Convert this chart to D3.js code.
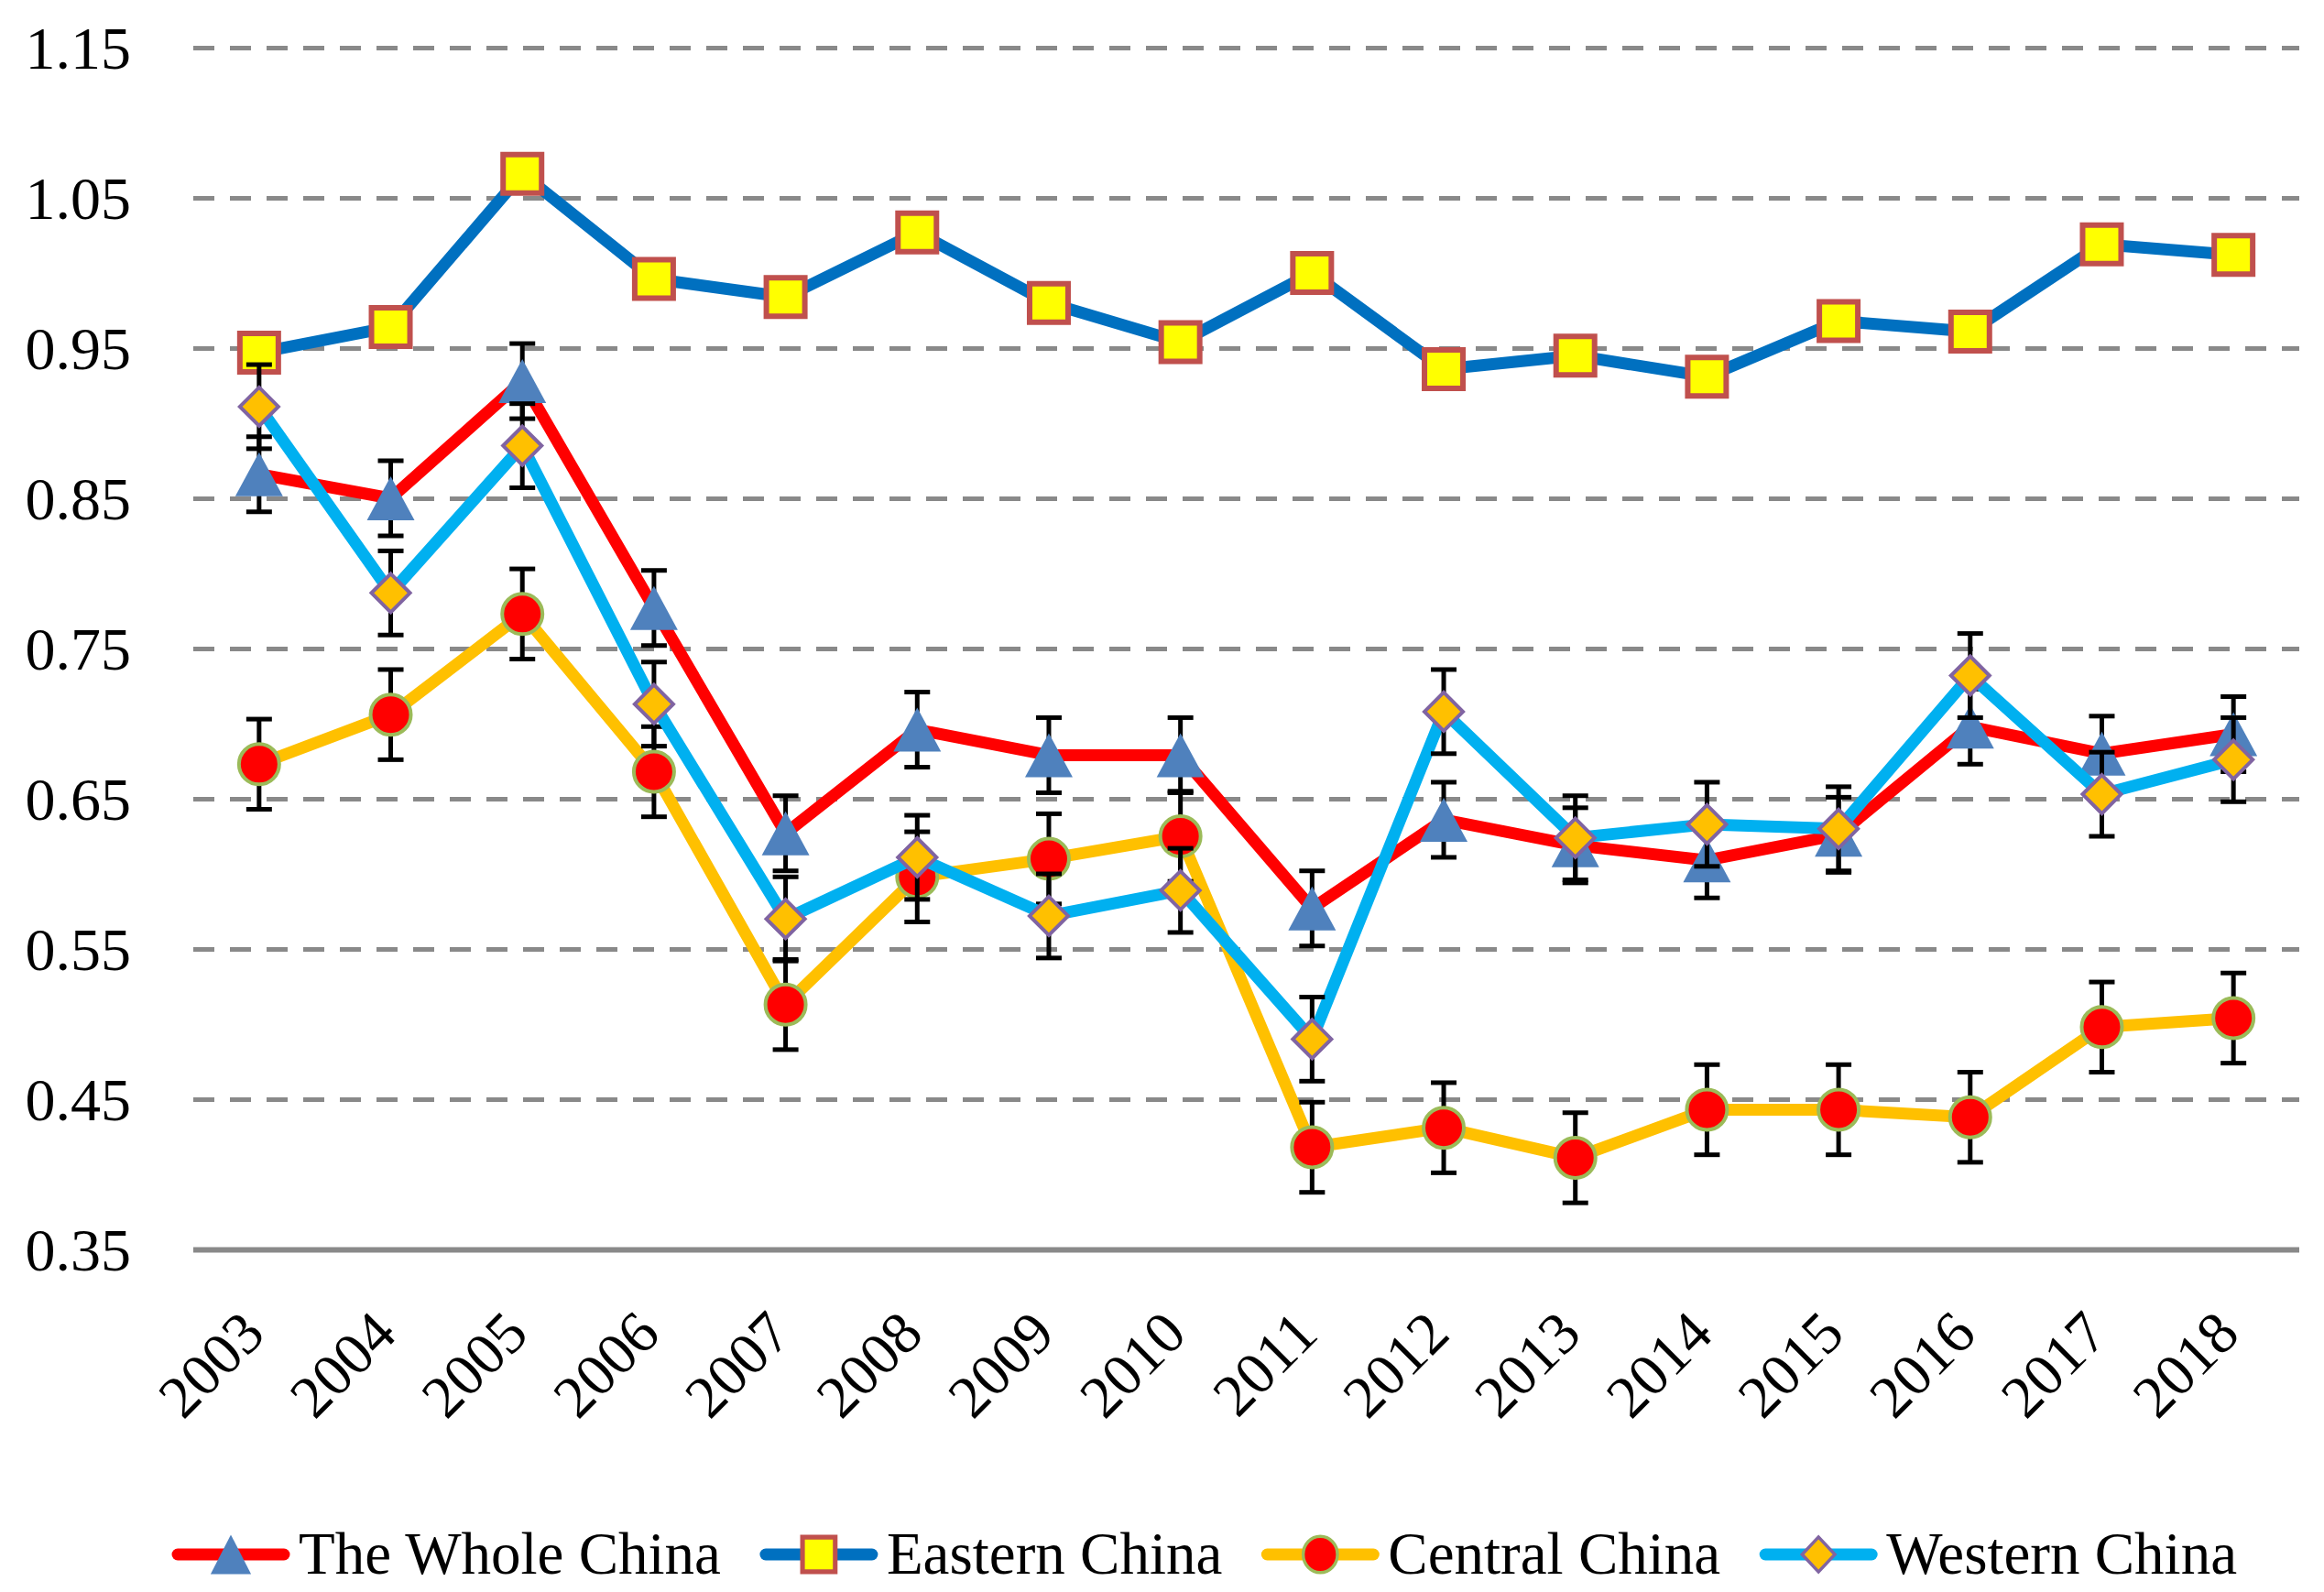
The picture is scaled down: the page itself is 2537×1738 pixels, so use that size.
<!DOCTYPE html>
<html>
<head>
<meta charset="utf-8">
<script src="https://cdn.jsdelivr.net/npm/d3@7"></script>
<style>
  body { margin: 0; background: #fff; }
  text { font-family: "Liberation Serif", serif; fill: #000; }
</style>
</head>
<body>
<svg id="chart"></svg>
<script>
const width = 2537;
const height = 1738;

const years = ["2003","2004","2005","2006","2007","2008","2009","2010",
               "2011","2012","2013","2014","2015","2016","2017","2018"];
const yTicks = [0.35, 0.45, 0.55, 0.65, 0.75, 0.85, 0.95, 1.05, 1.15];

const wholeChina = [0.866,0.850,0.928,0.777,0.627,0.696,0.679,0.679,0.577,0.636,0.619,0.609,0.626,0.698,0.680,0.693];
const easternChina = [0.947,0.964,1.066,0.996,0.984,1.027,0.980,0.954,1.000,0.936,0.945,0.931,0.968,0.961,1.019,1.012];
const centralChina = [0.673,0.706,0.773,0.668,0.513,0.598,0.610,0.625,0.418,0.431,0.411,0.443,0.443,0.438,0.498,0.504];
const westernChina = [0.911,0.787,0.885,0.713,0.570,0.611,0.572,0.589,0.490,0.708,0.624,0.633,0.630,0.732,0.653,0.676];

const seriesNames = ["The Whole China", "Eastern China", "Central China", "Western China"];
const seriesErrors = [0.025, 0, 0.03, 0.028];

// marker shapes, centred on 0,0
const shapes = {
    triangle: s => `M0,${-24*s}L${26*s},${24*s}L${-26*s},${24*s}Z`,
    square: s => `M${-21*s},${-21*s}H${21*s}V${21*s}H${-21*s}Z`,
    circle: s => `M${-22*s},0A${22*s},${22*s} 0 1,0 ${22*s},0A${22*s},${22*s} 0 1,0 ${-22*s},0Z`,
    diamond: s => `M0,${-21*s}L${21*s},0L0,${21*s}L${-21*s},0Z`
};

const styles = [
    { line: "#FF0000", shape: "triangle", fill: "#4F81BD", stroke: "none", sw: 0 },
    { line: "#0070C0", shape: "square", fill: "#FFFF00", stroke: "#C0504D", sw: 6 },
    { line: "#FFC000", shape: "circle", fill: "#FF0000", stroke: "#9BBB59", sw: 4 },
    { line: "#00B0F0", shape: "diamond", fill: "#FFC000", stroke: "#8064A2", sw: 4 }
];

const series = [wholeChina, easternChina, centralChina, westernChina].map((vals, i) => ({
    name: seriesNames[i],
    err: seriesErrors[i],
    style: styles[i],
    values: vals.map((v, j) => ({ year: years[j], value: v }))
}));

const plot = { left: 211, right: 2510, top: 52, bottom: 1364 };

const svg = d3.select("#chart")
    .attr("width", width)
    .attr("height", height);

svg.append("rect").attr("width", width).attr("height", height).attr("fill", "#fff");

const x = d3.scaleBand()
    .domain(years)
    .range([plot.left, plot.right])
    .padding(0);
const cx = d => x(d) + x.bandwidth() / 2;

const y = d3.scaleLinear()
    .domain([0.35, 1.15])
    .range([plot.bottom, plot.top]);

// y axis with gridlines
const yAxis = svg.append("g")
    .attr("transform", `translate(${plot.left},0)`)
    .call(d3.axisLeft(y)
        .tickValues(yTicks)
        .tickSize(-(plot.right - plot.left))
        .tickPadding(68)
        .tickFormat(d3.format(".2f")));
yAxis.select(".domain").remove();
yAxis.selectAll(".tick line")
    .attr("stroke", "#898989")
    .attr("stroke-width", d => d === 0.35 ? 6 : 5)
    .attr("stroke-dasharray", d => d === 0.35 ? null : "23,17");
yAxis.selectAll(".tick text")
    .attr("font-size", 66)
    .attr("dy", null)
    .attr("y", 22);

// x axis labels
const xAxis = svg.append("g")
    .attr("transform", `translate(0,${plot.bottom})`)
    .call(d3.axisBottom(x).tickSize(0).tickPadding(0));
xAxis.select(".domain").remove();
xAxis.selectAll(".tick text")
    .attr("font-size", 65)
    .attr("text-anchor", "end")
    .attr("dy", null)
    .attr("y", 0)
    .attr("transform", "translate(9,95) rotate(-45)");

const line = d3.line()
    .x(d => cx(d.year))
    .y(d => y(d.value));

series.forEach(s => {
    const g = svg.append("g");
    g.append("path")
        .datum(s.values)
        .attr("fill", "none")
        .attr("stroke", s.style.line)
        .attr("stroke-width", 13)
        .attr("stroke-linejoin", "round")
        .attr("d", line);

    if (s.err > 0) {
        const eb = g.append("g")
            .selectAll("g")
            .data(s.values)
            .enter().append("g")
            .attr("stroke", "#000")
            .attr("stroke-width", 5);
        eb.append("line")
            .attr("x1", d => cx(d.year)).attr("x2", d => cx(d.year))
            .attr("y1", d => y(d.value - s.err)).attr("y2", d => y(d.value + s.err));
        eb.append("line")
            .attr("x1", d => cx(d.year) - 14).attr("x2", d => cx(d.year) + 14)
            .attr("y1", d => y(d.value + s.err)).attr("y2", d => y(d.value + s.err));
        eb.append("line")
            .attr("x1", d => cx(d.year) - 14).attr("x2", d => cx(d.year) + 14)
            .attr("y1", d => y(d.value - s.err)).attr("y2", d => y(d.value - s.err));
    }

    g.append("g")
        .selectAll("path")
        .data(s.values)
        .enter().append("path")
        .attr("transform", d => `translate(${cx(d.year)},${y(d.value)})`)
        .attr("d", shapes[s.style.shape](1))
        .attr("fill", s.style.fill)
        .attr("stroke", s.style.stroke)
        .attr("stroke-width", s.style.sw);
});

// legend
const legend = svg.append("g").attr("transform", "translate(188,1697)");
let lx = 0;
series.forEach(s => {
    const item = legend.append("g").attr("transform", `translate(${lx},0)`);
    item.append("line")
        .attr("x1", 6).attr("x2", 122)
        .attr("stroke", s.style.line)
        .attr("stroke-width", 13)
        .attr("stroke-linecap", "round");
    item.append("path")
        .attr("transform", "translate(64,0) scale(0.85,0.9)")
        .attr("d", shapes[s.style.shape](1))
        .attr("fill", s.style.fill)
        .attr("stroke", s.style.stroke)
        .attr("stroke-width", s.style.sw);
    const t = item.append("text")
        .attr("x", 138)
        .attr("y", 21)
        .attr("font-size", 65)
        .text(s.name);
    lx += 138 + t.node().getComputedTextLength() + 43;
});
</script>
</body>
</html>
